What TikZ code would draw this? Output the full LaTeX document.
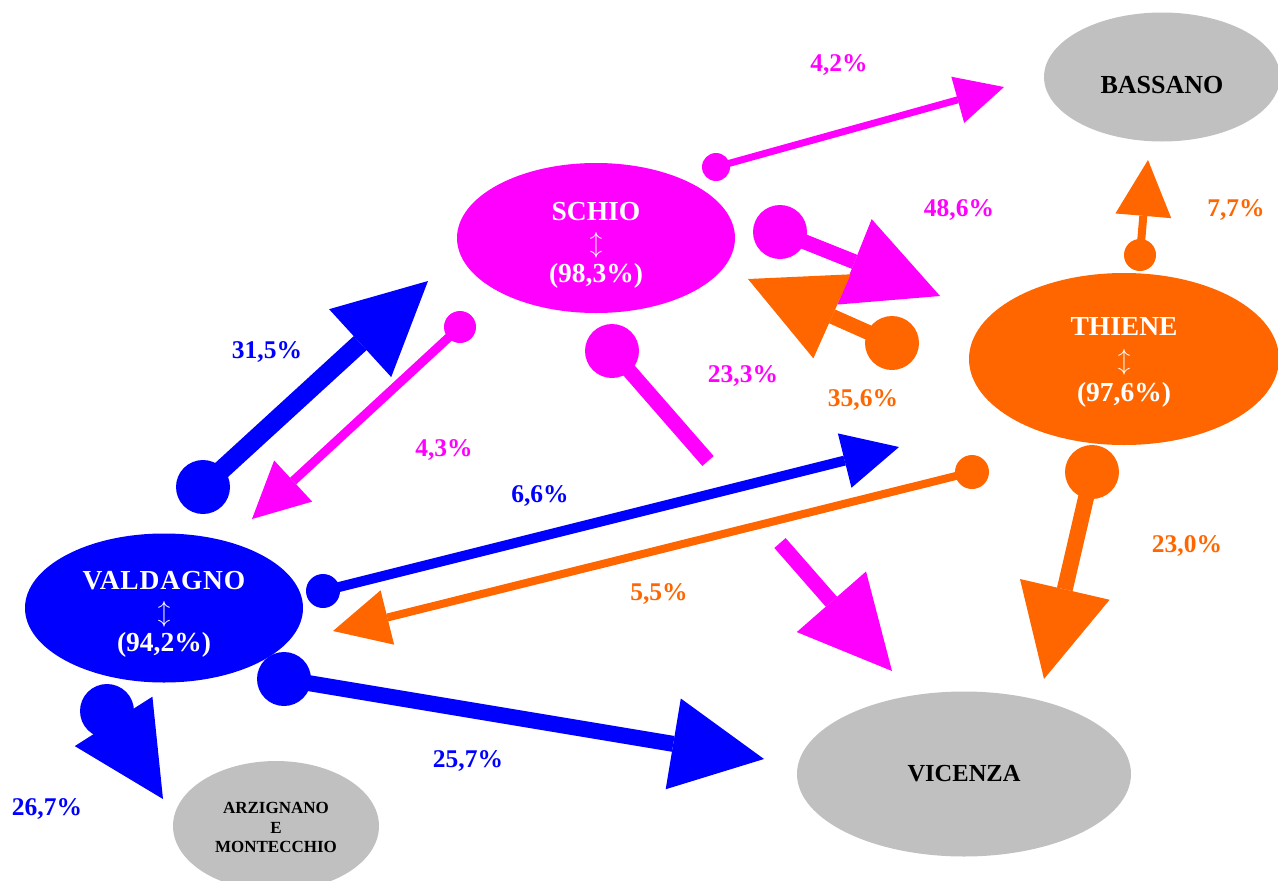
\documentclass[tikz,border=0pt]{standalone}
\usepackage{fontspec}
\setmainfont{Liberation Serif}
\usetikzlibrary{arrows.meta,shapes.geometric}
\definecolor{cblue}{RGB}{0,0,255}
\definecolor{cmag}{RGB}{255,0,255}
\definecolor{corange}{RGB}{255,102,0}
\definecolor{cgray}{RGB}{192,192,192}
\newcommand{\topstrut}[1]{\rule{0pt}{#1pt}}
\begin{document}
\begin{tikzpicture}[x=1pt,y=-1pt,
  town/.style={ellipse, inner sep=0pt, align=center, text=white,
    font=\bfseries\fontsize{27.5}{31}\selectfont},
  dest/.style={ellipse, fill=cgray, inner sep=0pt, align=center, text=black},
  pct/.style={anchor=base, font=\bfseries\fontsize{25.5}{29}\selectfont},
  bighead/.style={-{Triangle[length=92pt,width=92pt,line width=0pt]}},
  smallhead/.style={-{Triangle[length=56pt,width=56pt,line width=0pt]}},
  tinyhead/.style={-{Triangle[length=48pt,width=48pt,line width=0pt]}}
]
\useasboundingbox (0,0) rectangle (1278,881);
% places
\node[town, fill=cmag, minimum width=278pt, minimum height=150pt] (schio) at (596,238) {\topstrut{32}SCHIO\\$\updownarrow$\\(98,3\%)};
\node[town, fill=corange, minimum width=310pt, minimum height=172pt, font=\bfseries\fontsize{27.5}{33}\selectfont] (thiene) at (1124,359) {\topstrut{25}THIENE\\$\updownarrow$\\(97,6\%)};
\node[town, fill=cblue, minimum width=278pt, minimum height=149pt] (valdagno) at (164,608) {\topstrut{30}{\addfontfeature{LetterSpace=3}VALDAGNO}\\$\updownarrow$\\(94,2\%)};
\node[dest, minimum width=236pt, minimum height=129pt, font=\bfseries\fontsize{26}{30}\selectfont] (bassano) at (1162,77) {\topstrut{34}BASSANO};
\node[dest, minimum width=334pt, minimum height=165pt, font=\bfseries\fontsize{24.5}{30}\selectfont] (vicenza) at (964,774) {VICENZA};
\node[dest, minimum width=206pt, minimum height=130pt, font=\bfseries\fontsize{17}{19.5}\selectfont] (arzignano) at (276,826) {\topstrut{15}ARZIGNANO\\E\\MONTECCHIO};
% endpoints
\coordinate (c1) at (203,487);  \coordinate (t1) at (428,281);
\coordinate (c2) at (460,327);  \coordinate (t2) at (252,519);
\coordinate (c3) at (716,167);  \coordinate (t3) at (1004,87);
\coordinate (c4) at (780,232);  \coordinate (t4) at (940,296);
\coordinate (c5) at (892,343);  \coordinate (t5) at (748,279);
\coordinate (c6) at (612,351);  \coordinate (g6a) at (708,461); \coordinate (g6b) at (780,543); \coordinate (t6) at (892,671);
\coordinate (c7) at (323,591);  \coordinate (t7) at (899,447);
\coordinate (c8) at (972,472);  \coordinate (t8) at (333,631);
\coordinate (c9) at (1140,255); \coordinate (t9) at (1148,160);
\coordinate (c10) at (1092,472); \coordinate (t10) at (1044,679);
\coordinate (c11) at (284,679); \coordinate (t11) at (764,759);
\coordinate (c12) at (107,711); \coordinate (t12) at (163,799);
% blue flows
\fill[cblue] (c1) circle[radius=27];
\draw[cblue, line width=19pt, bighead] (c1) -- (t1);
\fill[cblue] (c7) circle[radius=17];
\draw[cblue, line width=10pt, smallhead] (c7) -- (t7);
\fill[cblue] (c11) circle[radius=27];
\draw[cblue, line width=16pt, bighead] (c11) -- (t11);
\fill[cblue] (c12) circle[radius=27];
\draw[cblue, line width=16pt, bighead] (c12) -- (t12);
% magenta flows
\fill[cmag] (c2) circle[radius=16];
\draw[cmag, line width=9pt, smallhead] (c2) -- (t2);
\fill[cmag] (c3) circle[radius=14];
\draw[cmag, line width=7pt, tinyhead] (c3) -- (t3);
\fill[cmag] (c4) circle[radius=27];
\draw[cmag, line width=15pt, bighead] (c4) -- (t4);
\fill[cmag] (c6) circle[radius=27];
\draw[cmag, line width=15pt] (c6) -- (g6a);
\draw[cmag, line width=15pt, bighead] (g6b) -- (t6);
% orange flows
\fill[corange] (c5) circle[radius=27];
\draw[corange, line width=15pt, bighead] (c5) -- (t5);
\fill[corange] (c8) circle[radius=17];
\draw[corange, line width=8pt, smallhead] (c8) -- (t8);
\fill[corange] (c9) circle[radius=16];
\draw[corange, line width=8pt, smallhead] (c9) -- (t9);
\fill[corange] (c10) circle[radius=27];
\draw[corange, line width=16pt, bighead] (c10) -- (t10);
% labels
\node[pct, text=cmag] (l42) at (839,71) {4,2\%};
\node[pct, text=cmag] (l486) at (959,216) {48,6\%};
\node[pct, text=corange] (l77) at (1236,216) {7,7\%};
\node[pct, text=cblue] (l315) at (267,358) {31,5\%};
\node[pct, text=cmag] (l43) at (444,456) {4,3\%};
\node[pct, text=cmag] (l233) at (743,382) {23,3\%};
\node[pct, text=corange] (l356) at (863,406) {35,6\%};
\node[pct, text=cblue] (l66) at (540,502) {6,6\%};
\node[pct, text=corange] (l55) at (659,600) {5,5\%};
\node[pct, text=corange] (l230) at (1187,552) {23,0\%};
\node[pct, text=cblue] (l257) at (468,767) {25,7\%};
\node[pct, text=cblue] (l267) at (47,815) {26,7\%};
\end{tikzpicture}
\end{document}
